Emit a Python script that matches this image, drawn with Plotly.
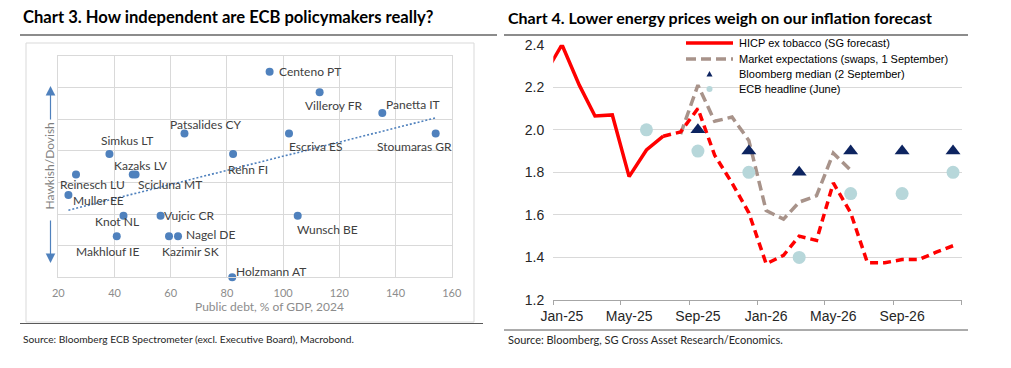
import numpy as np
import pandas as pd
import plotly.graph_objects as go

# ---------------- Chart 3 data ----------------
members = ["Centeno PT", "Villeroy FR", "Panetta IT", "Stoumaras GR", "Escriva ES",
           "Rehn FI", "Patsalides CY", "Simkus LT", "Kazaks LV", "Scicluna MT",
           "Reinesch LU", "Muller EE", "Knot NL", "Vujcic CR", "Makhlouf IE",
           "Kazimir SK", "Nagel DE", "Holzmann AT", "Wunsch BE"]
public_debt = [95.2, 113.0, 135.3, 154.3, 102.1,
               82.2, 64.9, 38.2, 46.5, 47.5,
               26.3, 23.6, 43.2, 56.4, 40.8,
               59.4, 62.6, 81.9, 105.2]
dovishness = [6.5, 5.85, 5.2, 4.55, 4.55,
              3.9, 4.55, 3.9, 3.25, 3.25,
              3.25, 2.6, 1.95, 1.95, 1.3,
              1.3, 1.3, 0.0, 1.95]

# ---------------- Chart 4 data ----------------
months = ["Dec-24", "Jan-25", "Feb-25", "Mar-25", "Apr-25", "May-25", "Jun-25", "Jul-25",
          "Aug-25", "Sep-25", "Oct-25", "Nov-25", "Dec-25", "Jan-26", "Feb-26", "Mar-26",
          "Apr-26", "May-26", "Jun-26", "Jul-26", "Aug-26", "Sep-26", "Oct-26", "Nov-26", "Dec-26"]
hicp_actual = [2.26, 2.40, 2.21, 2.065, 2.07, 1.78, 1.905, 1.97,
               None, None, None, None, None, None, None, None,
               None, None, None, None, None, None, None, None, None]
hicp_sg_forecast = [None, None, None, None, None, None, None, 1.97,
                    1.99, 2.10, 1.88, 1.75, 1.61, 1.37, 1.41, 1.50,
                    1.48, 1.75, 1.61, 1.375, 1.375, 1.39, 1.39, 1.425, 1.455]
market_swaps = [None, None, None, None, None, None, None, None,
                1.98, 2.21, 2.04, 2.06, 1.95, 1.62, 1.58, 1.66,
                1.69, 1.89, 1.81, None, None, None, None, None, None]
bbg_months = ["Sep-25", "Dec-25", "Mar-26", "Jun-26", "Sep-26", "Dec-26"]
bbg_median = [2.0, 1.9, 1.8, 1.9, 1.9, 1.9]
ecb_months = ["Jun-25", "Sep-25", "Dec-25", "Mar-26", "Jun-26", "Sep-26", "Dec-26"]
ecb_headline = [2.0, 1.9, 1.8, 1.4, 1.7, 1.7, 1.8]
x_tick_labels = ["Jan-25", "May-25", "Sep-25", "Jan-26", "May-26", "Sep-26"]

W, H = 1011, 368


def pxx(x):
    return x / W


def pxy(y):
    return 1 - y / H


def to_dates(labels):
    return [d.strftime("%Y-%m-%d") for d in pd.to_datetime(labels, format="%b-%y")]


dates = to_dates(months)

fig = go.Figure()

# ---- Chart 3 ----
coef = np.polyfit(public_debt, dovishness, 1)
xt = np.array([min(public_debt), max(public_debt)])
fig.add_trace(go.Scatter(x=xt, y=np.polyval(coef, xt), mode="lines",
                         line=dict(color="#4f81bd", width=1.6, dash="2px,2px"),
                         xaxis="x", yaxis="y", hoverinfo="skip"))
fig.add_trace(go.Scatter(x=public_debt, y=dovishness, mode="markers",
                         marker=dict(color="#4f81bd", size=8), cliponaxis=False,
                         xaxis="x", yaxis="y", hovertext=members))

# label offsets (px): anchor, dx, dy(down)
label_pos = {
    "Centeno PT": ("left", 7, 0), "Villeroy FR": ("center", 14, 13),
    "Panetta IT": ("center", 31, -8), "Stoumaras GR": ("center", -21, 13),
    "Escriva ES": ("center", 27, 13), "Rehn FI": ("center", 14.5, 15),
    "Patsalides CY": ("center", 21, -9), "Simkus LT": ("center", 18, -14),
    "Kazaks LV": ("center", 8.4, -8.6), "Scicluna MT": ("center", 34, 10),
    "Reinesch LU": ("center", 16.7, 10), "Muller EE": ("left", 2.4, 5),
    "Knot NL": ("center", -6, 6), "Vujcic CR": ("left", 1.7, 0),
    "Makhlouf IE": ("center", -9, 15), "Kazimir SK": ("center", 21.3, 15),
    "Nagel DE": ("left", 6, -1.7), "Holzmann AT": ("left", 2, -6),
    "Wunsch BE": ("center", 30, 14),
}
annotations = []
for name, xv, yv in zip(members, public_debt, dovishness):
    anc, dx, dy = label_pos[name]
    annotations.append(dict(x=xv, y=yv, xref="x", yref="y", text=name, showarrow=False,
                            xanchor=anc, yanchor="middle", xshift=dx, yshift=-dy,
                            font=dict(family="Lato", size=12, color="#404040")))

# ---- Chart 4 ----
fig.add_trace(go.Scatter(x=dates, y=market_swaps, mode="lines",
                         line=dict(color="#a8938a", width=3.5, dash="10px,5px"),
                         xaxis="x2", yaxis="y2", name="Market expectations"))
fig.add_trace(go.Scatter(x=dates, y=hicp_sg_forecast, mode="lines",
                         line=dict(color="#ff0000", width=3.5, dash="8px,5px"),
                         xaxis="x2", yaxis="y2", name="SG forecast"))
fig.add_trace(go.Scatter(x=dates, y=hicp_actual, mode="lines",
                         line=dict(color="#ff0000", width=3.5),
                         xaxis="x2", yaxis="y2", name="HICP ex tobacco"))
fig.add_trace(go.Scatter(x=to_dates(ecb_months), y=ecb_headline, mode="markers",
                         marker=dict(color="#b7d7da", size=13),
                         xaxis="x2", yaxis="y2", name="ECB headline"))
fig.add_trace(go.Scatter(x=to_dates(bbg_months), y=bbg_median, mode="markers",
                         marker=dict(color="#0d2460", size=13, symbol="triangle-up"),
                         xaxis="x2", yaxis="y2", name="Bloomberg median"))

boundaries = ["2024-12-16 12:00", "2025-04-16 00:00", "2025-08-16 12:00",
              "2025-12-16 12:00", "2026-04-16 00:00", "2026-08-16 12:00",
              "2026-12-16 12:00"]

# custom legend
shapes = []
leg_x0, leg_x1, leg_tx = 686, 733, 737
rows = [43, 59, 74, 89]
shapes.append(dict(type="line", xref="paper", yref="paper", x0=pxx(leg_x0), x1=pxx(leg_x1),
                   y0=pxy(rows[0]), y1=pxy(rows[0]), line=dict(color="#ff0000", width=3.5)))
shapes.append(dict(type="line", xref="paper", yref="paper", x0=pxx(leg_x0), x1=pxx(leg_x1),
                   y0=pxy(rows[1]), y1=pxy(rows[1]),
                   line=dict(color="#a8938a", width=3.5, dash="10px,5px")))
cx = (leg_x0 + leg_x1) / 2
shapes.append(dict(type="path", xref="paper", yref="paper",
                   path=f"M {pxx(cx-3)},{pxy(rows[2]+2.5)} L {pxx(cx+3)},{pxy(rows[2]+2.5)} "
                        f"L {pxx(cx)},{pxy(rows[2]-3)} Z",
                   fillcolor="#0d2460", line=dict(width=0)))
shapes.append(dict(type="circle", xref="paper", yref="paper",
                   x0=pxx(cx-3), x1=pxx(cx+3), y0=pxy(rows[3]+3), y1=pxy(rows[3]-3),
                   fillcolor="#b7d7da", line=dict(width=0)))
legend_texts = ["HICP ex tobacco (SG forecast)", "Market expectations (swaps, 1 September)",
                "Bloomberg median (2 September)", "ECB headline (June)"]
for t, r in zip(legend_texts, rows):
    annotations.append(dict(x=pxx(leg_tx), y=pxy(r), xref="paper", yref="paper", text=t,
                            showarrow=False, xanchor="left", yanchor="middle",
                            font=dict(family="Arial, Liberation Sans", size=11, color="#000000")))

# frames / rules
shapes += [
    dict(type="rect", xref="paper", yref="paper", x0=pxx(26), x1=pxx(474), y0=pxy(322), y1=pxy(43),
         line=dict(color="#d9d9d9", width=1), layer="below"),
    dict(type="line", xref="paper", yref="paper", x0=pxx(20), x1=pxx(497), y0=pxy(35), y1=pxy(35),
         line=dict(color="#1a1a1a", width=1.2)),
    dict(type="line", xref="paper", yref="paper", x0=pxx(504), x1=pxx(968), y0=pxy(35), y1=pxy(35),
         line=dict(color="#1a1a1a", width=1.2)),
    dict(type="line", xref="paper", yref="paper", x0=pxx(20), x1=pxx(483), y0=pxy(323.5), y1=pxy(323.5),
         line=dict(color="#595959", width=1)),
    dict(type="line", xref="paper", yref="paper", x0=pxx(504), x1=pxx(968), y0=pxy(330), y1=pxy(330),
         line=dict(color="#595959", width=1)),
]

# titles & sources
annotations += [
    dict(x=pxx(21), y=pxy(17), xref="paper", yref="paper", xanchor="left", yanchor="middle",
         showarrow=False, text="<b>Chart 3. How independent are ECB policymakers really?</b>",
         font=dict(family="Lato", size=16.6, color="#000000")),
    dict(x=pxx(506), y=pxy(17), xref="paper", yref="paper", xanchor="left", yanchor="middle",
         showarrow=False, text="<b>Chart 4. Lower energy prices weigh on our inflation forecast</b>",
         font=dict(family="Lato", size=16, color="#000000")),
    dict(x=pxx(21), y=pxy(339), xref="paper", yref="paper", xanchor="left", yanchor="middle",
         showarrow=False, text="Source: Bloomberg ECB Spectrometer (excl. Executive Board), Macrobond.",
         font=dict(family="Lato", size=10.2, color="#262626")),
    dict(x=pxx(506), y=pxy(339), xref="paper", yref="paper", xanchor="left", yanchor="middle",
         showarrow=False, text="Source: Bloomberg, SG Cross Asset Research/Economics.",
         font=dict(family="Lato", size=11, color="#262626")),
    dict(x=pxx(269), y=pxy(306), xref="paper", yref="paper", xanchor="center", yanchor="middle",
         showarrow=False, text="Public debt, % of GDP, 2024",
         font=dict(family="Lato", size=12, color="#8c8c8c")),
    dict(x=pxx(49), y=pxy(166.5), xref="paper", yref="paper", xanchor="center", yanchor="middle",
         showarrow=False, text="Hawkish/Dovish", textangle=-90,
         font=dict(family="Lato", size=12, color="#7f7f7f")),
    dict(x=pxx(50.5), y=pxy(86), xref="paper", yref="paper", text="", showarrow=True,
         ax=0, ay=35, arrowhead=2, arrowsize=1.6, arrowwidth=1.2, arrowcolor="#4f81bd"),
    dict(x=pxx(50.5), y=pxy(263), xref="paper", yref="paper", text="", showarrow=True,
         ax=0, ay=-44, arrowhead=2, arrowsize=1.6, arrowwidth=1.2, arrowcolor="#4f81bd"),
]

fig.update_layout(
    width=W, height=H, margin=dict(l=0, r=0, t=0, b=0, pad=0, autoexpand=False),
    paper_bgcolor="white", plot_bgcolor="rgba(0,0,0,0)", showlegend=False,
    xaxis=dict(domain=[pxx(58.3), pxx(451.7)], range=[20, 160], tick0=20, dtick=20,
               showgrid=True, gridcolor="#d9d9d9", gridwidth=1, zeroline=False, showline=True,
               mirror=True, linecolor="#d9d9d9", ticks="", ticklabelstandoff=5, automargin=False,
               tickfont=dict(family="Lato", size=11, color="#8c8c8c"), anchor="y"),
    yaxis=dict(domain=[1 - 277.3 / H, 1 - 56 / H], range=[0, 7], dtick=1, tick0=0,
               showgrid=True, gridcolor="#d9d9d9", gridwidth=1, zeroline=False, showline=True,
               mirror=True, automargin=False,
               linecolor="#d9d9d9", showticklabels=False, ticks="", anchor="x"),
    xaxis2=dict(type="date", domain=[pxx(553.3), pxx(961.7)],
                range=[boundaries[0], boundaries[-1]], automargin=False,
                tickmode="array", tickvals=to_dates(x_tick_labels), ticktext=x_tick_labels,
                ticks="", showgrid=False, zeroline=False, showline=True, linecolor="#a6a6a6",
                ticklabelstandoff=3,
                minor=dict(tickmode="array", tickvals=boundaries, ticks="outside", ticklen=4,
                           tickcolor="#a6a6a6", showgrid=False),
                tickfont=dict(family="Arial, Liberation Sans", size=14, color="#262626"),
                anchor="y2"),
    yaxis2=dict(domain=[1 - 300 / H, 1 - 44.7 / H], range=[1.1999, 2.4001], tick0=1.2, dtick=0.2,
                tickformat=".1f", showgrid=True, gridcolor="#d9d9d9", zeroline=False,
                showline=False, ticks="", ticklabelstandoff=8, automargin=False,
                tickfont=dict(family="Arial, Liberation Sans", size=14, color="#262626"),
                anchor="x2"),
    shapes=shapes, annotations=annotations,
)

fig.write_html("out.html", config={"displayModeBar": False},
               post_script="document.body.style.margin='0px';")
